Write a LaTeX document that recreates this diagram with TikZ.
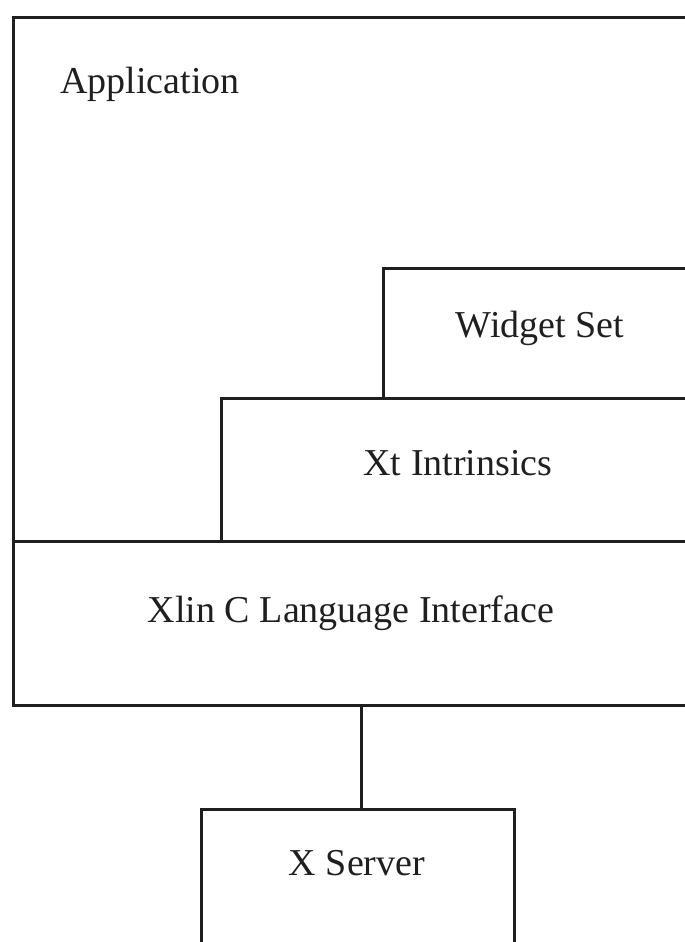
\documentclass[tikz,border=0pt]{standalone}
\usepackage{fontspec}
\setmainfont{Liberation Serif}
\begin{document}
\begin{tikzpicture}[x=1pt,y=-1pt,
  box/.style={draw=black!88,line width=3pt,inner sep=0pt,anchor=north west},
  lbl/.style={inner sep=0pt,anchor=base,font=\fontsize{38}{44}\selectfont,text=black!88},
  conn/.style={draw=black!88,line width=3pt}]
\useasboundingbox (0,0) rectangle (685,942);
\clip (0,0) rectangle (685,942);
\node[box,minimum width=700pt,minimum height=524pt] (app) at (12,16) {};
\node[box,minimum width=320pt,minimum height=130pt] (ws) at (382,267) {};
\node[box,minimum width=480pt,minimum height=143pt] (xt) at (220,397) {};
\node[box,minimum width=700pt,minimum height=164pt] (xlib) at (12,540) {};
\node[box,minimum width=313pt,minimum height=160pt] (srv) at (200,808) {};
\node[lbl,anchor=base west] (appt) at (60,93) {Application};
\node[lbl] (wst) at (540,337) {Widget Set};
\node[lbl] (xtt) at (458,475) {Xt Intrinsics};
\node[lbl] (xlibt) at (351,622) {Xlin C Language Interface};
\node[lbl] (srvt) at (357,875) {X Server};
\coordinate (ctop) at (361,704);
\draw[conn] (ctop) -- (ctop |- srv.north);
\end{tikzpicture}
\end{document}
